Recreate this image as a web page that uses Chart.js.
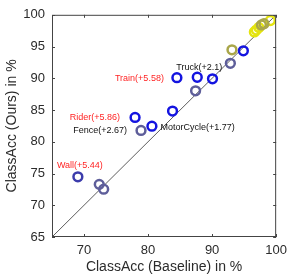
<!DOCTYPE html>
<html>
<head>
<meta charset="utf-8">
<script src="https://cdn.jsdelivr.net/npm/chart.js@4.4.0/dist/chart.umd.min.js"></script>
<style>
  html, body { margin: 0; padding: 0; background: #fff; }
  #wrap { width: 293px; height: 280px; }
</style>
</head>
<body>
<div id="wrap"><canvas id="bieudo"></canvas></div>
<script>
// class accuracy: baseline (x) vs ours (y), grouped by marker colour
const blueBase  = [77.97, 80.6, 83.82, 84.5, 87.68, 90.06, 94.88];
const blueOurs  = [83.83, 82.45, 84.83, 90.1, 90.16, 89.91, 94.33];
const navyBase  = [69.04];
const navyOurs  = [74.48];
const slateBase = [72.38, 73.07, 78.9, 87.42, 92.85];
const slateOurs = [73.29, 72.53, 81.79, 88.03, 92.35];
const oliveBase = [93.1, 97.7, 98.1];
const oliveOurs = [94.48, 98.4, 98.6];
const yellowBase = [96.6, 96.9, 97.3, 99.1];
const yellowOurs = [97.3, 97.6, 98.0, 99.1];

const xTicks = [70, 80, 90, 100];
const yTicks = [65, 70, 75, 80, 85, 90, 95, 100];

// annotations
const noteName = ["Wall", "Rider", "Fence", "Train", "MotorCycle", "Truck"];
const noteGain = [5.44, 5.86, 2.67, 5.58, 1.77, 2.1];
const noteBase = [69.04, 77.97, 78.9, 84.5, 80.6, 87.68];
const noteOurs = [74.48, 83.83, 81.79, 90.1, 82.45, 90.16];

function pts(xs, ys) {
  return xs.map((v, i) => ({ x: v, y: ys[i] }));
}

function ring(data, color) {
  return {
    type: "scatter",
    data: data,
    borderColor: color,
    backgroundColor: "rgba(0,0,0,0)",
    borderWidth: 2.5,
    pointRadius: 4.4,
    pointHoverRadius: 4.4,
    order: 1
  };
}

const AXIS = "#2b2b2b";

// box, inward ticks and text notes
const boxPlugin = {
  id: "box",
  afterDatasetsDraw(chart) {
    const ctx = chart.ctx;
    const a = chart.chartArea;
    const xs = chart.scales.x, ys = chart.scales.y;
    ctx.save();
    ctx.strokeStyle = "#444";
    ctx.lineWidth = 1;
    ctx.strokeRect(a.left + 0.5, a.top + 0.5, a.right - a.left - 1, a.bottom - a.top - 1);
    ctx.beginPath();
    xTicks.forEach(v => {
      const px = Math.round(xs.getPixelForValue(v)) + 0.5;
      ctx.moveTo(px, a.bottom); ctx.lineTo(px, a.bottom - 3);
      ctx.moveTo(px, a.top); ctx.lineTo(px, a.top + 3);
    });
    yTicks.forEach(v => {
      const py = Math.round(ys.getPixelForValue(v)) + 0.5;
      ctx.moveTo(a.left, py); ctx.lineTo(a.left + 3, py);
      ctx.moveTo(a.right, py); ctx.lineTo(a.right - 3, py);
    });
    ctx.stroke();

    // labels next to points
    const offs = [[2, -11, "center"], [-15, 0, "right"], [-14, 0, "right"],
                  [-13, 1, "right"], [8.5, 1, "left"], [2, -10, "center"]];
    ctx.font = "9px 'Liberation Sans', Arial, sans-serif";
    ctx.textBaseline = "middle";
    noteName.forEach((n, i) => {
      const px = xs.getPixelForValue(noteBase[i]);
      const py = ys.getPixelForValue(noteOurs[i]);
      ctx.fillStyle = noteGain[i] > 5 ? "#ff2424" : "#111";
      ctx.textAlign = offs[i][2];
      ctx.fillText(n + "(+" + noteGain[i] + ")", px + offs[i][0], py + offs[i][1]);
    });
    ctx.restore();
  }
};

new Chart(document.getElementById("bieudo"), {
  type: "scatter",
  data: {
    datasets: [
      {
        type: "line",
        data: [{ x: 65, y: 65 }, { x: 100, y: 100 }],
        borderColor: "#333",
        borderWidth: 0.8,
        pointRadius: 0,
        fill: false,
        order: 10
      },
      ring(pts(slateBase, slateOurs), "#5e5e9a"),
      ring(pts(navyBase, navyOurs), "#3c3cac"),
      ring(pts(blueBase, blueOurs), "#1414e0"),
      ring(pts(oliveBase, oliveOurs), "#a9a64a"),
      ring(pts(yellowBase, yellowOurs), "#e4e410")
    ]
  },
  options: {
    responsive: true,
    maintainAspectRatio: false,
    animation: false,
    events: [],
    layout: { padding: { top: 7, right: 11, left: 0, bottom: 0 } },
    plugins: { legend: { display: false }, tooltip: { enabled: false } },
    scales: {
      x: {
        type: "linear",
        min: 65,
        max: 100,
        afterBuildTicks: s => { s.ticks = xTicks.map(v => ({ value: v })); },
        afterFit: s => { s.height = 43; },
        grid: { display: false, drawTicks: false },
        border: { display: false },
        ticks: {
          padding: 6,
          color: AXIS,
          font: { family: "'Liberation Sans', Arial, sans-serif", size: 13 }
        },
        title: {
          display: true,
          text: "ClassAcc (Baseline) in %",
          color: AXIS,
          padding: { bottom: 4, top: 0 },
          font: { family: "'Liberation Sans', Arial, sans-serif", size: 14 }
        }
      },
      y: {
        type: "linear",
        min: 65,
        max: 100,
        afterBuildTicks: s => { s.ticks = yTicks.map(v => ({ value: v })); },
        afterFit: s => { s.width = 52; },
        grid: { display: false, drawTicks: false },
        border: { display: false },
        ticks: {
          padding: 7,
          color: AXIS,
          font: { family: "'Liberation Sans', Arial, sans-serif", size: 13 }
        },
        title: {
          display: true,
          text: "ClassAcc (Ours) in %",
          color: AXIS,
          padding: { top: 4, bottom: 0 },
          font: { family: "'Liberation Sans', Arial, sans-serif", size: 14 }
        }
      }
    }
  },
  plugins: [boxPlugin]
});
</script>
</body>
</html>
